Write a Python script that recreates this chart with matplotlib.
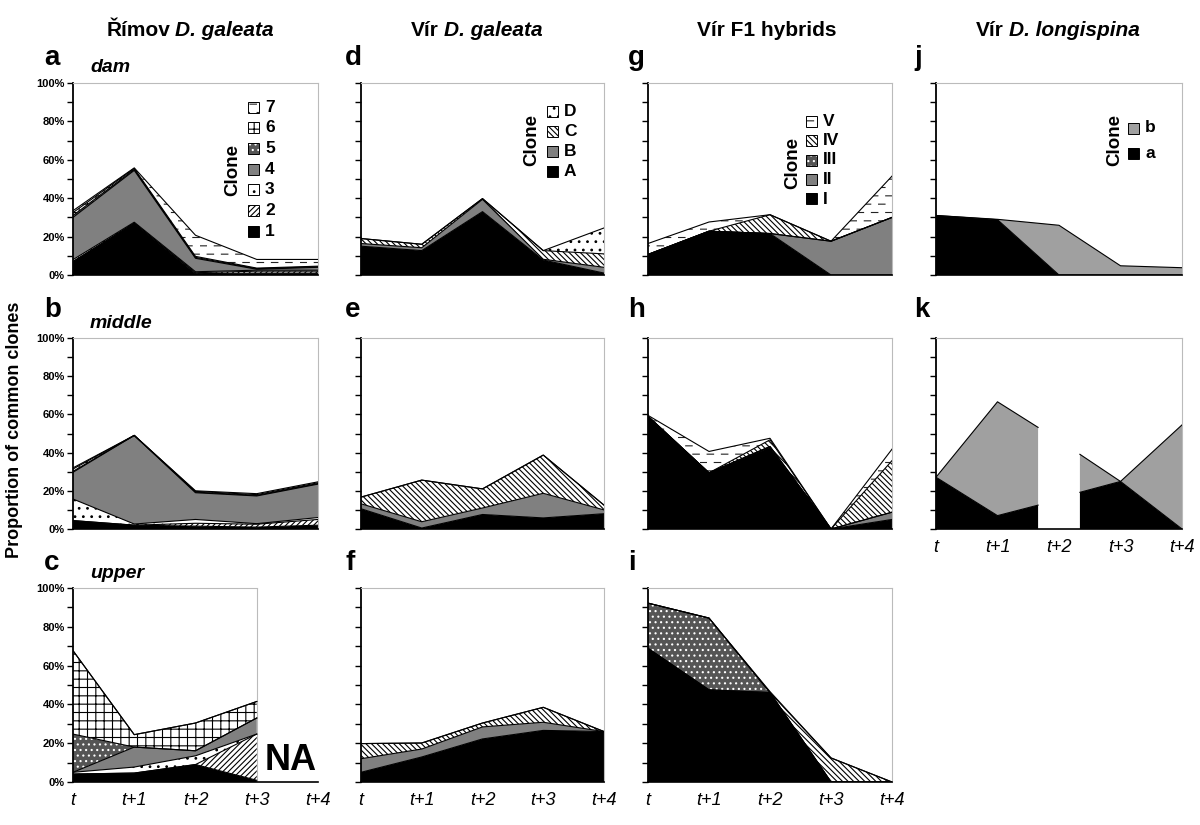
import numpy as np
import matplotlib
matplotlib.use("Agg")
import matplotlib.pyplot as plt
import matplotlib.hatch as mhatch
from matplotlib.path import Path
from matplotlib.patches import Rectangle

plt.rcParams['font.family'] = ['Liberation Sans', 'DejaVu Sans']
plt.rcParams['hatch.linewidth'] = 0.8

W, H = 1200, 825

# ---------------- data ----------------
time_labels = ['t', 't+1', 't+2', 't+3', 't+4']
time_pos = [0, 1, 2, 3, 4]

# Římov D. galeata, clones 1..7 (proportion %, per clone)
rimov_names = ['1', '2', '3', '4', '5', '6', '7']
rimov_dam = [
    [7.0, 27.0, 0.7, 1.0, 1.0],
    [0.0, 0.0, 0.5, 1.0, 1.0],
    [1.0, 0.5, 0.5, 0.5, 0.5],
    [22.0, 27.0, 7.0, 0.5, 1.5],
    [1.0, 0.5, 0.5, 0.3, 0.3],
    [1.5, 0.5, 0.5, 0.3, 0.3],
    [1.0, 0.3, 11.0, 4.5, 3.5],
]
rimov_middle = [
    [4.4, 2.0, 1.5, 1.0, 2.0],
    [0.0, 0.0, 1.5, 1.5, 3.0],
    [11.3, 0.6, 2.0, 0.3, 1.0],
    [14.0, 46.4, 14.0, 14.5, 17.5],
    [0.5, 0.0, 0.3, 0.3, 0.3],
    [1.2, 0.0, 0.4, 0.4, 0.4],
    [0.6, 0.0, 0.3, 0.5, 0.5],
]
# upper: no sample at t+4 (NA)
rimov_upper = [
    [4.1, 4.6, 9.0, 0.9],
    [0.0, 0.0, 0.0, 23.8],
    [0.9, 3.1, 4.5, 0.0],
    [0.0, 10.3, 2.6, 8.3],
    [19.7, 0.0, 0.0, 0.0],
    [43.0, 6.4, 14.3, 8.5],
    [0.0, 0.0, 0.0, 0.0],
]

# Vír D. galeata, clones A..D
virg_names = ['A', 'B', 'C', 'D']
virg_dam = [
    [15.0, 12.7, 33.0, 7.8, 1.0],
    [1.4, 1.5, 6.4, 0.4, 3.0],
    [2.6, 1.8, 0.4, 4.5, 7.0],
    [0.0, 0.0, 0.0, 0.0, 13.5],
]
virg_middle = [
    [10.6, 0.5, 7.6, 5.8, 8.0],
    [2.6, 3.3, 3.4, 12.9, 2.0],
    [3.5, 21.8, 10.0, 20.0, 2.5],
    [0.0, 0.0, 0.0, 0.0, 0.0],
]
virg_upper = [
    [5.0, 12.9, 22.2, 26.6, 26.0],
    [7.0, 4.1, 6.2, 4.2, 0.0],
    [7.8, 3.1, 2.0, 7.7, 0.0],
    [0.0, 0.0, 0.0, 0.0, 0.0],
]

# Vír F1 hybrids, clones I..V
hyb_names = ['I', 'II', 'III', 'IV', 'V']
hyb_dam = [
    [10.7, 22.8, 21.6, 0.0, 0.0],
    [0.0, 0.0, 0.0, 17.6, 30.0],
    [0.0, 0.0, 0.0, 0.0, 0.0],
    [0.0, 0.0, 9.8, 0.0, 0.0],
    [5.7, 4.8, 0.0, 0.0, 21.5],
]
hyb_middle = [
    [59.0, 29.4, 42.7, 0.0, 5.0],
    [0.0, 0.0, 0.5, 0.0, 3.8],
    [0.0, 0.0, 0.0, 0.0, 0.0],
    [0.0, 0.0, 3.5, 0.0, 27.0],
    [0.5, 11.2, 0.8, 0.0, 6.0],
]
hyb_upper = [
    [68.9, 47.5, 46.1, 0.0, 0.0],
    [0.0, 0.0, 0.0, 0.0, 0.0],
    [23.3, 37.0, 0.0, 0.0, 0.0],
    [0.0, 0.0, 0.0, 12.4, 0.0],
    [0.0, 0.0, 0.5, 0.0, 0.0],
]

# Vír D. longispina, clones a, b
long_names = ['a', 'b']
long_dam = [
    [31.0, 28.8, 0.0, 0.0, 0.0],
    [0.0, 0.2, 25.9, 4.8, 3.8],
]
# middle: no data around t+2 (gap between break points)
long_mid_x = [[0, 1, 1.66], [2.34, 3, 4]]
long_mid_a = [[27.1, 7.0, 12.5], [19.2, 24.9, 0.0]]
long_mid_b = [[0.0, 59.6, 40.7], [19.9, 0.0, 54.5]]


# ---------------- dashed hatch ('--') ----------------
try:
    class DashedHorizontalHatch(mhatch.HorizontalHatch):
        def __init__(self, hatch, density):
            self.dashed = (hatch.count('-') == 2 and hatch.count('+') == 0)
            if self.dashed:
                self.num_lines = int(2 * density)
                self.n_dash = 7
                self.num_vertices = self.num_lines * self.n_dash * 2
            else:
                super().__init__(hatch, density)

        def set_vertices_and_codes(self, vertices, codes):
            if not self.dashed:
                return super().set_vertices_and_codes(vertices, codes)
            steps, stepsize = np.linspace(0.0, 1.0, self.num_lines, False, retstep=True)
            steps += stepsize / 2.0
            period = 1.0 / self.n_dash
            dlen = 0.45 * period
            k = 0
            for i, yv in enumerate(steps):
                off = (i % 2) * period / 2
                for j in range(self.n_dash):
                    x0 = off + j * period
                    vertices[k] = (x0, yv)
                    vertices[k + 1] = (x0 + dlen, yv)
                    codes[k] = Path.MOVETO
                    codes[k + 1] = Path.LINETO
                    k += 2

    _idx = mhatch._hatch_types.index(mhatch.HorizontalHatch)
    mhatch._hatch_types[_idx] = DashedHorizontalHatch
except Exception:
    pass

# ---------------- styles ----------------
BS = '\\' * 6
rimov_sty = [('black', None, None), ('white', '//////', 'black'), ('white', '..', 'black'),
             ('#808080', None, None), ('#555555', '...', 'white'), ('white', '++', 'black'),
             ('white', '--', '#222222')]
virg_sty = [('black', None, None), ('#808080', None, None), ('white', BS, 'black'),
            ('white', '..', 'black')]
hyb_sty = [('black', None, None), ('#808080', None, None), ('#555555', '...', 'white'),
           ('white', BS, 'black'), ('white', '--', '#222222')]
long_sty = [('black', None, None), ('#a0a0a0', None, None)]

fig = plt.figure(figsize=(W / 100, H / 100), dpi=100)

COLS = [(73, 318), (361, 604), (648, 892), (936, 1182)]
ROWS = [(83, 275), (338, 529), (588, 782)]


def make_axes(col, row):
    x0, x1 = COLS[col]
    y0, y1 = ROWS[row]
    return fig.add_axes([x0 / W, 1 - y1 / H, (x1 - x0) / W, (y1 - y0) / H])


def style_axes(ax, col, show_x):
    ax.set_xlim(0, 4)
    ax.set_ylim(0, 100)
    ax.set_yticks(np.arange(0, 101, 10))
    if col == 0:
        labs = [f'{v}%' if v % 20 == 0 else '' for v in range(0, 101, 10)]
    else:
        labs = [''] * 11
    ax.set_yticklabels(labs, fontsize=8, fontweight='bold')
    ax.tick_params(axis='y', direction='out', length=4, width=1, pad=2)
    ax.set_xticks(time_pos)
    if show_x:
        ax.set_xticklabels(time_labels, fontsize=13, style='italic')
    else:
        ax.set_xticklabels([])
    ax.tick_params(axis='x', length=0, pad=7)
    for s in ['top', 'right']:
        ax.spines[s].set_color('#bbbbbb')
        ax.spines[s].set_linewidth(0.8)
    ax.spines['left'].set_linewidth(1.3)
    ax.spines['bottom'].set_linewidth(1.2)


def draw_stack(ax, x, layers, styles):
    base = np.zeros(len(x))
    for vals, (fc, hatch, hc) in zip(layers, styles):
        top = base + np.asarray(vals, float)
        ax.fill_between(x, base, top, facecolor=fc,
                        edgecolor=hc if hatch else 'none', hatch=hatch,
                        linewidth=0, zorder=2)
        ax.plot(x, top, color='black', lw=0.8, zorder=3)
        base = top


def legend(names, styles, xp, y_top, dy, cx, cy, size=11):
    items = list(zip(names, styles))[::-1]
    for i, (name, (fc, hatch, hc)) in enumerate(items):
        yc = y_top + i * dy
        r = Rectangle((xp / W, 1 - (yc + size / 2) / H), size / W, size / H,
                      transform=fig.transFigure, facecolor=fc,
                      edgecolor=hc if hatch else 'none', hatch=hatch, linewidth=0)
        fig.add_artist(r)
        b = Rectangle((xp / W, 1 - (yc + size / 2) / H), size / W, size / H,
                      transform=fig.transFigure, facecolor='none',
                      edgecolor='black', linewidth=0.7)
        fig.add_artist(b)
        fig.text((xp + size + 6) / W, 1 - yc / H, name, fontsize=12.5,
                 fontweight='bold', va='center', ha='left')
    fig.text(cx / W, 1 - cy / H, 'Clone', rotation=90, fontsize=13.5,
             fontweight='bold', va='center', ha='center')


# ---------------- panels ----------------
panels = [
    (0, 0, rimov_dam, rimov_sty, False),
    (0, 1, rimov_middle, rimov_sty, False),
    (1, 0, virg_dam, virg_sty, False),
    (1, 1, virg_middle, virg_sty, False),
    (1, 2, virg_upper, virg_sty, True),
    (2, 0, hyb_dam, hyb_sty, False),
    (2, 1, hyb_middle, hyb_sty, False),
    (2, 2, hyb_upper, hyb_sty, True),
    (3, 0, long_dam, long_sty, False),
]
for col, row, data, sty, showx in panels:
    ax = make_axes(col, row)
    style_axes(ax, col, showx)
    draw_stack(ax, time_pos, data, sty)

# panel c (Římov upper, NA at t+4)
ax = make_axes(0, 2)
style_axes(ax, 0, True)
draw_stack(ax, time_pos[:4], rimov_upper, rimov_sty)
ax.spines['right'].set_visible(False)
ax.spines['top'].set_bounds(0, 3)
ax.axvline(3, color='#bbbbbb', lw=0.8, zorder=1)
ax.text(3.55, 11, 'NA', fontsize=26, fontweight='bold', ha='center', va='center')

# panel k (Vír D. longispina middle)
ax = make_axes(3, 1)
style_axes(ax, 3, True)
for xs, a_vals, b_vals in zip(long_mid_x, long_mid_a, long_mid_b):
    draw_stack(ax, xs, [a_vals, b_vals], long_sty)

# ---------------- legends ----------------
legend(rimov_names, rimov_sty, 248, 107, 20.7, 233, 170)
legend(virg_names, virg_sty, 547, 111, 20.0, 532, 140)
legend(hyb_names, hyb_sty, 806, 121, 19.5, 793, 163)
legend(long_names, long_sty, 1128, 128, 25.0, 1115, 140)

# ---------------- texts ----------------
renderer = fig.canvas.get_renderer()


def header(cx, y, parts, gap=5):
    objs = []
    total = 0
    for s, st in parts:
        t = fig.text(0, 1 - y / H, s, fontsize=15, fontweight='bold', style=st,
                     va='center', ha='left')
        w = t.get_window_extent(renderer).width
        objs.append((t, w))
        total += w
    total += gap * (len(parts) - 1)
    x = cx - total / 2
    for t, w in objs:
        t.set_x(x / W)
        x += w + gap


header(190, 30, [('Římov', 'normal'), ('D. galeata', 'italic')])
header(477, 30, [('Vír', 'normal'), ('D. galeata', 'italic')])
header(767, 30, [('Vír F1 hybrids', 'normal')])
header(1058, 30, [('Vír', 'normal'), ('D. longispina', 'italic')])

letters = [('a', 44, 58), ('b', 44, 310), ('c', 44, 563),
           ('d', 345, 58), ('e', 345, 310), ('f', 345, 563),
           ('g', 628, 58), ('h', 628, 310), ('i', 628, 563),
           ('j', 914, 58), ('k', 914, 310)]
for s, x, y in letters:
    fig.text(x / W, 1 - y / H, s, fontsize=20, fontweight='bold', va='center', ha='left')

for s, y in [('dam', 68), ('middle', 323), ('upper', 573)]:
    fig.text(90 / W, 1 - y / H, s, fontsize=14, fontweight='bold', style='italic',
             va='center', ha='left')

fig.text(15 / W, 1 - 430 / H, 'Proportion of common clones', rotation=90,
         fontsize=13, fontweight='bold', va='center', ha='center')

fig.savefig('out.png', dpi=100)
